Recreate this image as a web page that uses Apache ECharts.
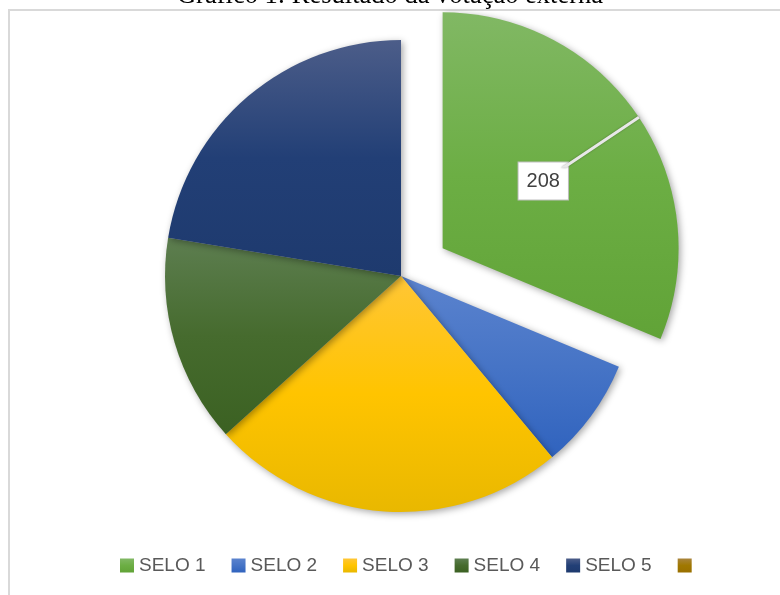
<!DOCTYPE html>
<html>
<head>
<meta charset="utf-8">
<script src="https://cdn.jsdelivr.net/npm/echarts@6/dist/echarts.min.js"></script>
<style>html,body{margin:0;padding:0;background:#fff}#c{width:780px;height:595px}</style>
</head>
<body>
<div id="c"></div>
<script>
const titleText = 'Gráfico 1: Resultado da votação externa';
const categories = ['SELO 1', 'SELO 2', 'SELO 3', 'SELO 4', 'SELO 5', ' '];
const values = [208, 51, 162, 95, 149, 0];
const labelledIndex = 0;
// gradient stops per slice: [top, middle, bottom]
const sliceColors = [
  ['#81b864', '#6cae44', '#61a337'],
  ['#5b83ce', '#4674c6', '#3063be'],
  ['#ffc636', '#ffc400', '#e9b800'],
  ['#5d7e50', '#466b2e', '#3b6122'],
  ['#4c5d89', '#223f76', '#1e3a6e'],
  ['#a9843c', '#a07800', '#9a7000']
];

function grad(c) {
  return new echarts.graphic.LinearGradient(0, 0, 0, 1, [
    { offset: 0, color: c[0] },
    { offset: 0.5, color: c[1] },
    { offset: 1, color: c[2] }
  ]);
}

const pieData = categories.map((name, i) => ({
  name: name,
  value: values[i],
  selected: i === labelledIndex,
  itemStyle: {
    color: grad(sliceColors[i]),
    shadowBlur: values[i] ? 7 : 0,
    shadowColor: values[i] ? 'rgba(0,0,0,0.35)' : 'transparent',
    shadowOffsetX: 2,
    shadowOffsetY: 2
  },
  label: { show: i === labelledIndex }
}));

// overlay copy used only to draw the callout leader line of the labelled slice
const lineData = categories.map((name, i) => ({
  name: name,
  value: values[i],
  selected: i === labelledIndex,
  label: { show: i === labelledIndex },
  labelLine: { show: i === labelledIndex }
}));

const pieCommon = {
  type: 'pie',
  center: [401, 276],
  radius: 236,
  startAngle: 90,
  clockwise: true,
  selectedMode: 'single',
  selectedOffset: 50,
  avoidLabelOverlap: false,
  emphasis: { disabled: true }
};

const chart = echarts.init(document.getElementById('c'), null, { renderer: 'canvas' });
chart.setOption({
  animation: false,
  backgroundColor: '#ffffff',
  title: {
    text: titleText,
    left: 'center',
    top: -17,
    padding: 0,
    textStyle: { fontFamily: 'Liberation Serif', fontSize: 26.5, fontWeight: 'normal', color: '#000000' }
  },
  graphic: [{
    type: 'rect',
    silent: true,
    z: -1,
    shape: { x: 9, y: 10, width: 900, height: 700 },
    style: { fill: 'none', stroke: '#d9d9d9', lineWidth: 2 }
  }],
  legend: {
    left: 115,
    top: 551,
    itemWidth: 14,
    itemHeight: 14,
    itemGap: 26,
    icon: 'rect',
    selectedMode: false,
    textStyle: { fontFamily: 'Liberation Sans', fontSize: 19, color: '#595959' }
  },
  series: [
    Object.assign({}, pieCommon, {
      name: 'main',
      z: 2,
      label: {
        position: 'inside',
        formatter: '{c}',
        fontFamily: 'Liberation Sans',
        fontSize: 20,
        color: '#404040',
        backgroundColor: '#ffffff',
        borderColor: '#bfbfbf',
        borderWidth: 1,
        padding: [9, 8, 8, 8]
      },
      labelLine: { show: false },
      data: pieData
    }),
    Object.assign({}, pieCommon, {
      name: 'callout',
      z: 4,
      silent: true,
      itemStyle: { color: 'rgba(0,0,0,0)' },
      label: {
        position: 'outside',
        formatter: '{c}',
        fontSize: 4,
        color: 'rgba(0,0,0,0)'
      },
      labelLine: {
        length: -88,
        length2: 1,
        smooth: false,
        minTurnAngle: 0,
        maxSurfaceAngle: 180,
        lineStyle: { color: '#e8e8e8', width: 3, shadowColor: 'rgba(0,0,0,0.35)', shadowBlur: 2 }
      },
      data: lineData
    })
  ]
});
</script>
</body>
</html>
